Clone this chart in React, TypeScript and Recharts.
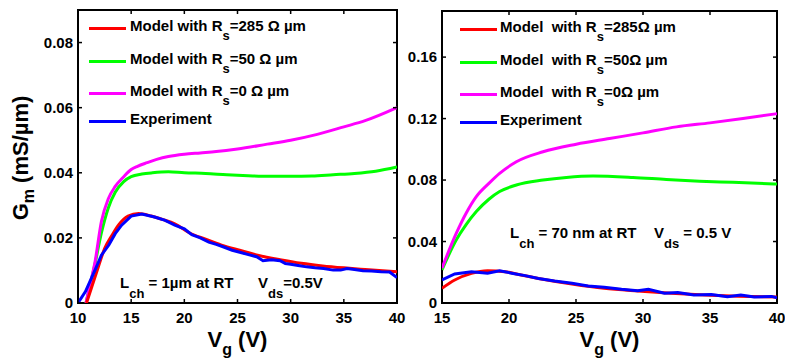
import { Legend, Line, LineChart, ReferenceArea, XAxis, YAxis } from 'recharts'

const FONT = '"Liberation Sans", Arial, Helvetica, sans-serif'

// ---- left panel: L_ch = 1 um ----
const leftTicksX = [10, 15, 20, 25, 30, 35, 40]
const leftTicksY = [0, 0.02, 0.04, 0.06, 0.08]

const leftExpVg = [10, 10.7, 11.6, 12.2, 12.9, 13.5, 14.1, 15, 16, 17.2, 18.2, 19.1, 20, 20.7, 21.5, 22.3, 23, 23.7, 24.5, 25.3, 26.2, 26.8, 27.4, 28.2, 29, 29.5, 30, 30.7, 31.5, 32.3, 33.1, 34, 34.7, 35.3, 36, 36.8, 37.6, 38.5, 39.3, 40]
const leftExpGm = [0, 0.0035, 0.0101, 0.0147, 0.0178, 0.0213, 0.0239, 0.0267, 0.0273, 0.0264, 0.0254, 0.0239, 0.0228, 0.021, 0.02, 0.0187, 0.018, 0.0172, 0.0162, 0.0155, 0.0147, 0.0142, 0.013, 0.0133, 0.013, 0.0121, 0.0119, 0.0115, 0.0111, 0.0108, 0.0106, 0.0101, 0.0101, 0.0106, 0.0103, 0.0099, 0.0098, 0.0096, 0.0095, 0.0078]

const leftRs285Vg = [10.8, 11.3, 11.9, 12.5, 13.2, 13.8, 14.7, 15.7, 16.9, 18, 19.1, 20.5, 22, 23.5, 25.2, 27, 29, 31, 33, 35, 37, 40]
const leftRs285Gm = [0, 0.005, 0.011, 0.0167, 0.0208, 0.0239, 0.0267, 0.0275, 0.0267, 0.0256, 0.0243, 0.0215, 0.0196, 0.0178, 0.0162, 0.0146, 0.0133, 0.0122, 0.0114, 0.0108, 0.0103, 0.0096]

const leftRs50Vg = [10.75, 11.2, 11.6, 12.2, 12.85, 13.5, 14.3, 15, 16, 17, 18.5, 20, 22, 24, 26, 28, 30, 32, 34, 36, 38, 40]
const leftRs50Gm = [0, 0.0063, 0.012, 0.0215, 0.0292, 0.034, 0.0373, 0.0388, 0.0396, 0.04, 0.0403, 0.04, 0.0398, 0.0394, 0.0391, 0.0389, 0.0389, 0.039, 0.0394, 0.0398, 0.0405, 0.0418]

const leftRs0Vg = [10.75, 11.2, 11.6, 12.2, 12.85, 13.5, 14.3, 15, 15.6, 16.5, 17.4, 18.5, 20, 21.5, 23, 25, 27.8, 30, 32.5, 35, 37, 40]
const leftRs0Gm = [0, 0.0065, 0.0126, 0.025, 0.032, 0.0358, 0.0388, 0.041, 0.042, 0.0431, 0.0441, 0.045, 0.0457, 0.0461, 0.0465, 0.0473, 0.0488, 0.05, 0.0518, 0.0541, 0.056, 0.06]

// ---- right panel: L_ch = 70 nm ----
const rightTicksX = [15, 20, 25, 30, 35, 40]
const rightTicksY = [0, 0.04, 0.08, 0.12, 0.16]

const rightExpVg = [15, 15.95, 17.2, 18.4, 19.3, 20.2, 21.2, 22.2, 23.4, 24.7, 25.9, 27.1, 28.4, 29.6, 30.4, 31.6, 32.6, 33.8, 35.1, 36.3, 37.3, 38.3, 39.6, 40]
const rightExpGm = [0.015, 0.0189, 0.0204, 0.0194, 0.021, 0.0194, 0.0178, 0.016, 0.0143, 0.0128, 0.0111, 0.0102, 0.0089, 0.008, 0.0089, 0.0063, 0.0069, 0.0052, 0.0056, 0.0041, 0.0052, 0.0039, 0.0043, 0.0033]

const rightRs285Vg = [15, 15.95, 17.2, 18.4, 19.7, 20.9, 22.2, 24.7, 27.1, 29.6, 32.1, 34.6, 37.1, 40]
const rightRs285Gm = [0.0096, 0.015, 0.0193, 0.021, 0.0204, 0.0182, 0.016, 0.0124, 0.0096, 0.0078, 0.0063, 0.0052, 0.0044, 0.0039]

const rightRs50Vg = [15, 16.07, 16.8, 17.56, 18.5, 19.3, 20.55, 22.54, 24.28, 26.27, 29.25, 31.74, 34.23, 36.7, 40]
const rightRs50Gm = [0.0216, 0.0411, 0.051, 0.0595, 0.0675, 0.0725, 0.0768, 0.08, 0.0817, 0.0826, 0.0817, 0.0804, 0.0793, 0.0785, 0.0774]

const rightRs0Vg = [15, 16.07, 16.8, 17.56, 18.5, 19.3, 20.55, 22.54, 25.02, 27.5, 30, 32.5, 35, 37.46, 40]
const rightRs0Gm = [0.0227, 0.0454, 0.0584, 0.0692, 0.0778, 0.0843, 0.0919, 0.0984, 0.1033, 0.107, 0.1107, 0.1146, 0.1172, 0.12, 0.1232]

const seriesColors = ['#ff0000', '#00ff00', '#ff00ff', '#0000ff']
const leftLegend = [
  ['Model with R', 's', '=285 Ω µm'],
  ['Model with R', 's', '=50 Ω µm'],
  ['Model with R', 's', '=0 Ω µm'],
  ['Experiment', '', ''],
]
const rightLegend = [
  ['Model  with R', 's', '=285Ω µm'],
  ['Model  with R', 's', '=50Ω µm'],
  ['Model  with R', 's', '=0Ω µm'],
  ['Experiment', '', ''],
]

const toPoints = (vg: number[], gm: number[]) => vg.map((v, i) => ({ vg: v, gm: gm[i] }))
const fmtY = (v: number) => (v === 0 ? '0' : v.toFixed(2))

const textProps = { fontFamily: FONT, fontWeight: 'bold' as const, fill: '#000' }

function makeXTick(top: number, bottom: number) {
  return (p: any) => (
    <g>
      <line x1={p.x} x2={p.x} y1={bottom} y2={bottom - 4} stroke="#000" strokeWidth={1.5} />
      <line x1={p.x} x2={p.x} y1={top} y2={top + 4} stroke="#000" strokeWidth={1.5} />
      <text x={p.x} y={p.y} dy="0.71em" textAnchor="middle" fontSize={15} {...textProps}>
        {p.payload.value}
      </text>
    </g>
  )
}

function makeYTick(left: number, right: number) {
  return (p: any) => (
    <g>
      <line x1={left} x2={left + 4} y1={p.y} y2={p.y} stroke="#000" strokeWidth={1.5} />
      <line x1={right - 4} x2={right} y1={p.y} y2={p.y} stroke="#000" strokeWidth={1.5} />
      <text x={p.x} y={p.y} dy="0.355em" textAnchor="end" fontSize={15} {...textProps}>
        {fmtY(p.payload.value)}
      </text>
    </g>
  )
}

const legendRowTops = [0, 33, 65, 93]

function LegendBox({ rows, gap }: { rows: string[][]; gap: number }) {
  return (
    <div style={{ position: 'relative', width: 300, height: 120 }}>
      {rows.map((r, i) => (
        <div key={i}>
          <div
            style={{
              position: 'absolute',
              left: 0,
              top: legendRowTops[i] + 8.8,
              width: 37,
              height: 3,
              background: seriesColors[i],
            }}
          />
          <div
            style={{
              position: 'absolute',
              left: 37 + gap,
              top: legendRowTops[i],
              fontFamily: FONT,
              fontWeight: 'bold',
              fontSize: 15,
              lineHeight: '15px',
              whiteSpace: 'pre',
              color: '#000',
            }}
          >
            {r[0]}
            {r[1] && <span style={{ fontSize: 13, position: 'relative', top: 8.5 }}>{r[1]}</span>}
            {r[2]}
          </div>
        </div>
      ))}
    </div>
  )
}

function Sub({ x, y, main, sub, rest, size = 15, subSize = 13, shift = 9.5 }: any) {
  return (
    <text x={x} y={y} fontSize={size} {...textProps} style={{ whiteSpace: 'pre' }}>
      <tspan>{main}</tspan>
      <tspan dy={shift} fontSize={subSize}>{sub}</tspan>
      <tspan dy={-shift}>{rest}</tspan>
    </text>
  )
}

function VgLabel({ cx }: { cx: number }) {
  return (
    <text x={cx} y={346.5} textAnchor="middle" fontSize={22} {...textProps} style={{ whiteSpace: 'pre' }}>
      <tspan>V</tspan>
      <tspan dy={8} fontSize={16}>g</tspan>
      <tspan dy={-8}> (V)</tspan>
    </text>
  )
}

export default function App() {
  const leftLines = [
    { data: toPoints(leftRs50Vg, leftRs50Gm), color: seriesColors[1], type: 'monotone' },
    { data: toPoints(leftRs0Vg, leftRs0Gm), color: seriesColors[2], type: 'monotone' },
    { data: toPoints(leftRs285Vg, leftRs285Gm), color: seriesColors[0], type: 'monotone' },
    { data: toPoints(leftExpVg, leftExpGm), color: seriesColors[3], type: 'linear' },
  ]
  const rightLines = [
    { data: toPoints(rightRs50Vg, rightRs50Gm), color: seriesColors[1], type: 'monotone' },
    { data: toPoints(rightRs0Vg, rightRs0Gm), color: seriesColors[2], type: 'monotone' },
    { data: toPoints(rightRs285Vg, rightRs285Gm), color: seriesColors[0], type: 'monotone' },
    { data: toPoints(rightExpVg, rightExpGm), color: seriesColors[3], type: 'linear' },
  ]

  return (
    <div style={{ position: 'absolute', left: 0, top: 0, width: 785, height: 360, background: '#fff' }}>
      <div style={{ position: 'absolute', left: 0, top: 0 }}>
        <LineChart width={412} height={360} margin={{ top: 10, right: 15, bottom: 0, left: 0 }}>
          <XAxis
            type="number"
            dataKey="vg"
            domain={[10, 40]}
            ticks={leftTicksX}
            allowDataOverflow
            height={57}
            axisLine={false}
            tickLine={false}
            tickSize={0}
            tickMargin={9}
            interval={0}
            tick={makeXTick(10, 303)}
          />
          <YAxis
            type="number"
            domain={[0, 0.09]}
            ticks={leftTicksY}
            allowDataOverflow
            width={78}
            axisLine={false}
            tickLine={false}
            tickSize={0}
            tickMargin={5}
            interval={0}
            tick={makeYTick(78, 397)}
          />
          <ReferenceArea x1={10} x2={40} y1={0} y2={0.09} fill="none" stroke="#000" strokeWidth={2} />
          {leftLines.map((s, i) => (
            <Line
              key={i}
              data={s.data}
              dataKey="gm"
              type={s.type as any}
              stroke={s.color}
              strokeWidth={3}
              dot={false}
              isAnimationActive={false}
            />
          ))}
          <Legend
            layout="horizontal"
            verticalAlign="middle"
            align="center"
            wrapperStyle={{ left: 89, top: 18, width: 300 }}
            content={() => <LegendBox rows={leftLegend} gap={4} />}
          />
          <Sub x={120} y={288.3} main="L" sub="ch" rest=" = 1µm at RT" />
          <Sub x={258} y={288.3} main="V" sub="ds" rest="=0.5V" />
          <VgLabel cx={237.5} />
          <text
            transform="translate(28,158) rotate(-90)"
            textAnchor="middle"
            fontSize={22}
            {...textProps}
            style={{ whiteSpace: 'pre' }}
          >
            <tspan>G</tspan>
            <tspan dy={6} fontSize={16}>m</tspan>
            <tspan dy={-6}> (mS/µm)</tspan>
          </text>
        </LineChart>
      </div>
      <div style={{ position: 'absolute', left: 400, top: 0 }}>
        <LineChart width={385} height={360} margin={{ top: 11, right: 8, bottom: 0, left: 0 }}>
          <XAxis
            type="number"
            dataKey="vg"
            domain={[15, 40]}
            ticks={rightTicksX}
            allowDataOverflow
            height={57}
            axisLine={false}
            tickLine={false}
            tickSize={0}
            tickMargin={9}
            interval={0}
            tick={makeXTick(11, 303)}
          />
          <YAxis
            type="number"
            domain={[0, 0.19]}
            ticks={rightTicksY}
            allowDataOverflow
            width={42}
            axisLine={false}
            tickLine={false}
            tickSize={0}
            tickMargin={5}
            interval={0}
            tick={makeYTick(42, 377)}
          />
          <ReferenceArea x1={15} x2={40} y1={0} y2={0.19} fill="none" stroke="#000" strokeWidth={2} />
          {rightLines.map((s, i) => (
            <Line
              key={i}
              data={s.data}
              dataKey="gm"
              type={s.type as any}
              stroke={s.color}
              strokeWidth={3}
              dot={false}
              isAnimationActive={false}
            />
          ))}
          <Legend
            layout="horizontal"
            verticalAlign="middle"
            align="center"
            wrapperStyle={{ left: 60, top: 19, width: 300 }}
            content={() => <LegendBox rows={rightLegend} gap={3} />}
          />
          <Sub x={110} y={238.3} main="L" sub="ch" rest=" = 70 nm at RT" />
          <Sub x={254} y={238.3} main="V" sub="ds" rest=" = 0.5 V" />
          <VgLabel cx={209.5} />
        </LineChart>
      </div>
    </div>
  )
}
